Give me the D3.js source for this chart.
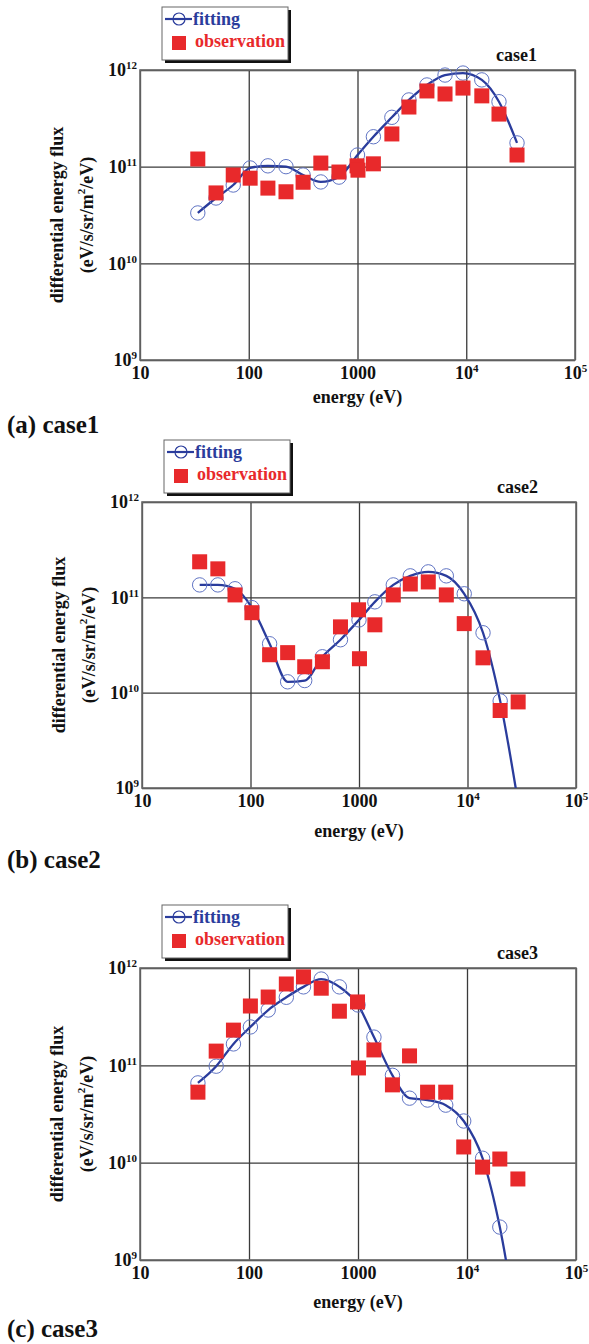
<!DOCTYPE html>
<html>
<head>
<meta charset="utf-8">
<script src="https://cdn.jsdelivr.net/npm/d3@7"></script>
<style>
body { margin: 0; background: #fff; }
text { font-family: "Liberation Serif", "Times New Roman", serif; font-weight: bold; }
</style>
</head>
<body>
<script>
// energy channels (eV)
const fitEnergy = [34, 50, 72, 103, 150, 220, 316, 460, 675, 1000, 1400, 2070, 2970, 4350, 6380, 9330, 13900, 20000, 29300];
const obsEnergy = [34, 50, 72, 103, 150, 220, 316, 460, 675, 990, 1010, 1400, 2070, 2970, 4350, 6380, 9330, 13900, 20000, 29300];

// case1
const fit1 = [3.32e10, 4.74e10, 6.46e10, 9.7e10, 1.02e11, 1.0e11, 8.2e10, 6.95e10, 7.8e10, 1.32e11, 2.04e11, 3.24e11, 4.9e11, 7.0e11, 8.87e11, 9.3e11, 7.9e11, 4.7e11, 1.76e11];
const obs1 = [1.2e11, 5.35e10, 8.2e10, 7.6e10, 6.0e10, 5.5e10, 6.9e10, 1.09e11, 8.8e10, 1.02e11, 9.2e10, 1.07e11, 2.18e11, 4.14e11, 6.07e11, 5.65e11, 6.5e11, 5.4e11, 3.5e11, 1.32e11];

// case2
const fit2 = [1.35e11, 1.35e11, 1.23e11, 7.8e10, 3.26e10, 1.30e10, 1.34e10, 2.38e10, 3.59e10, 5.8e10, 8.97e10, 1.35e11, 1.68e11, 1.85e11, 1.68e11, 1.09e11, 4.25e10, 8.2e9, 7e8];
const obs2 = [2.36e11, 1.99e11, 1.06e11, 6.9e10, 2.5e10, 2.63e10, 1.87e10, 2.11e10, 4.9e10, 7.4e10, 2.27e10, 5.15e10, 1.06e11, 1.38e11, 1.45e11, 1.06e11, 5.3e10, 2.32e10, 6.5e9, 8.0e9];

// case3
const fit3 = [6.6e10, 9.8e10, 1.66e11, 2.48e11, 3.7e11, 5.0e11, 6.4e11, 7.7e11, 6.4e11, 4.17e11, 1.95e11, 7.9e10, 4.6e10, 4.4e10, 3.9e10, 2.68e10, 1.11e10, 2.18e9, 1.8e8];
const obs3 = [5.3e10, 1.40e11, 2.3e11, 4.07e11, 5.03e11, 6.85e11, 8.1e11, 6.2e11, 3.6e11, 4.48e11, 9.4e10, 1.44e11, 6.3e10, 1.25e11, 5.3e10, 5.3e10, 1.45e10, 9.0e9, 1.09e10, 6.8e9];

const caseNames = ["case1", "case2", "case3"];
const captions = ["(a) case1", "(b) case2", "(c) case3"];
const fits = [fit1, fit2, fit3];
const observations = [obs1, obs2, obs3];

const xTicks = [10, 100, 1000, 1e4, 1e5];
const yTicks = [1e9, 1e10, 1e11, 1e12];

// page layout of each panel
const layout = [
    {top: 70, bottom: 360, left: 140, right: 575, legendY: 7, energyY: 397, captionY: 433},
    {top: 502, bottom: 788, left: 142, right: 576, legendY: 440, energyY: 831, captionY: 868},
    {top: 968, bottom: 1260, left: 140, right: 576, legendY: 905, energyY: 1302, captionY: 1337}
];

const blue = "#2a3c9c";
const lightBlue = "#6074c4";
const red = "#e8292b";

let svg = d3.select("body").append("svg")
    .attr("width", 589)
    .attr("height", 1344);

// write "10" with a superscript exponent, or the plain number
function powerLabel(text, v, plainBelow) {
    text.each(function() {
        let t = d3.select(this);
        let val = d3.select(this.parentNode).datum();
        t.text(null);
        let e = Math.round(Math.log10(val));
        if (val < plainBelow) {
            t.append("tspan").text(String(val));
        } else {
            t.append("tspan").text("10");
            t.append("tspan").attr("font-size", 11).attr("dy", -7).text(e);
        }
    });
}

layout.forEach((p, i) => {
    let x = d3.scaleLog().domain([10, 1e5]).range([p.left, p.right]);
    let y = d3.scaleLog().domain([1e9, 1e12]).range([p.bottom, p.top]);
    let g = svg.append("g");

    // vertical grid + x tick labels
    g.append("g")
        .attr("transform", `translate(0,${p.bottom})`)
        .call(d3.axisBottom(x).tickValues(xTicks).tickSizeInner(-(p.bottom - p.top)).tickSizeOuter(0).tickPadding(6))
        .call(a => a.select(".domain").remove())
        .call(a => a.selectAll("line").attr("stroke", "#3a3a3a").attr("stroke-width", 1.3))
        .call(a => a.selectAll("text").attr("font-size", 18).attr("fill", "#111")
            .attr("font-family", "Liberation Serif").call(powerLabel, null, 1e4));

    // horizontal grid + y tick labels
    g.append("g")
        .attr("transform", `translate(${p.left},0)`)
        .call(d3.axisLeft(y).tickValues(yTicks).tickSizeInner(-(p.right - p.left)).tickSizeOuter(0).tickPadding(3))
        .call(a => a.select(".domain").remove())
        .call(a => a.selectAll("line").attr("stroke", "#3a3a3a").attr("stroke-width", 1.3))
        .call(a => a.selectAll("text").attr("font-size", 18).attr("fill", "#111")
            .attr("font-family", "Liberation Serif").call(powerLabel, null, 1));

    // frame
    g.append("rect")
        .attr("x", p.left).attr("y", p.top)
        .attr("width", p.right - p.left).attr("height", p.bottom - p.top)
        .attr("fill", "none").attr("stroke", "#6a6a6a").attr("stroke-width", 1.6);

    // the line is cut at the frame, markers may poke out above it
    svg.append("clipPath").attr("id", "clip" + i)
        .append("rect")
        .attr("x", p.left).attr("y", p.top)
        .attr("width", p.right - p.left).attr("height", p.bottom - p.top);
    svg.append("clipPath").attr("id", "mclip" + i)
        .append("rect")
        .attr("x", p.left - 10).attr("y", p.top - 10)
        .attr("width", p.right - p.left + 20).attr("height", p.bottom - p.top + 10);

    let plot = g.append("g").attr("clip-path", `url(#clip${i})`);
    let marks = g.append("g").attr("clip-path", `url(#mclip${i})`);

    let fitData = fitEnergy.map((e, k) => ({e: e, v: fits[i][k]}));
    let obsData = obsEnergy.map((e, k) => ({e: e, v: observations[i][k]}));

    let line = d3.line()
        .x(d => x(d.e))
        .y(d => y(d.v))
        .curve(d3.curveMonotoneX);

    plot.append("path")
        .datum(fitData)
        .attr("d", line)
        .attr("fill", "none")
        .attr("stroke", blue)
        .attr("stroke-width", 2.3);

    marks.selectAll("circle")
        .data(fitData)
        .join("circle")
        .attr("cx", d => x(d.e))
        .attr("cy", d => y(d.v))
        .attr("r", 7.2)
        .attr("fill", "none")
        .attr("stroke", lightBlue)
        .attr("stroke-width", 1);

    marks.selectAll("rect.obs")
        .data(obsData)
        .join("rect")
        .attr("class", "obs")
        .attr("x", d => x(d.e) - 7.5)
        .attr("y", d => y(d.v) - 7.5)
        .attr("width", 15)
        .attr("height", 15)
        .attr("fill", red);

    // case name at the top right
    g.append("text")
        .attr("x", p.right - 38)
        .attr("y", p.top - 9)
        .attr("text-anchor", "end")
        .attr("font-size", 18)
        .attr("fill", "#111")
        .text(caseNames[i]);

    // y axis title, two lines
    let cy = (p.top + p.bottom) / 2;
    g.append("text")
        .attr("transform", `translate(${p.left - 77},${cy}) rotate(-90)`)
        .attr("text-anchor", "middle")
        .attr("font-size", 18)
        .attr("fill", "#111")
        .text("differential energy flux");

    let unit = g.append("text")
        .attr("transform", `translate(${p.left - 47},${cy}) rotate(-90)`)
        .attr("text-anchor", "middle")
        .attr("font-size", 18)
        .attr("fill", "#111");
    unit.append("tspan").text("(eV/s/sr/m");
    unit.append("tspan").attr("font-size", 11).attr("dy", -8).text("2");
    unit.append("tspan").attr("dy", 8).text("/eV)");

    // x axis title
    g.append("text")
        .attr("x", (p.left + p.right) / 2)
        .attr("y", p.energyY)
        .attr("dy", "0.35em")
        .attr("text-anchor", "middle")
        .attr("font-size", 18)
        .attr("fill", "#111")
        .text("energy (eV)");

    // legend
    let lx = p.left + 22, ly = p.legendY;
    g.append("rect")
        .attr("x", lx + 3).attr("y", ly + 3)
        .attr("width", 126).attr("height", 53)
        .attr("fill", "#111");
    g.append("rect")
        .attr("x", lx).attr("y", ly)
        .attr("width", 126).attr("height", 53)
        .attr("fill", "#fff").attr("stroke", "#666").attr("stroke-width", 1);
    g.append("line")
        .attr("x1", lx + 3).attr("x2", lx + 30)
        .attr("y1", ly + 12).attr("y2", ly + 12)
        .attr("stroke", blue).attr("stroke-width", 2.2);
    g.append("circle")
        .attr("cx", lx + 17).attr("cy", ly + 12).attr("r", 6)
        .attr("fill", "none").attr("stroke", blue).attr("stroke-width", 1.2);
    g.append("text")
        .attr("x", lx + 31).attr("y", ly + 18)
        .attr("font-size", 18).attr("fill", blue)
        .text("fitting");
    g.append("rect")
        .attr("x", lx + 10).attr("y", ly + 29)
        .attr("width", 14).attr("height", 14)
        .attr("fill", red);
    g.append("text")
        .attr("x", lx + 33).attr("y", ly + 40)
        .attr("font-size", 18).attr("fill", red)
        .text("observation");

    // caption
    svg.append("text")
        .attr("x", 7)
        .attr("y", p.captionY)
        .attr("font-size", 25)
        .attr("fill", "#111")
        .text(captions[i]);
});
</script>
</body>
</html>
